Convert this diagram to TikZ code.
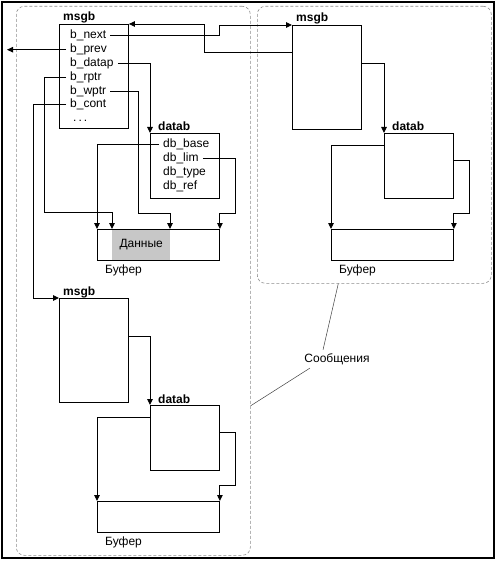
\documentclass[tikz,border=0pt]{standalone}
\usepackage{fontspec}
\setmainfont{Liberation Sans}
\usetikzlibrary{arrows.meta}

\begin{document}
\begin{tikzpicture}[x=1pt, y=1pt,
        font=\fontsize{12}{14}\selectfont,
        box/.style={draw, line width=0.9pt, anchor=north west, inner sep=0pt},
        group/.style={draw=black!45, dash pattern=on 3pt off 2pt, rounded corners=8pt, line width=0.6pt, anchor=north west, inner sep=0pt},
        title/.style={anchor=base west, inner sep=0pt, font=\fontsize{12}{14}\selectfont\bfseries},
        field/.style={anchor=base west, inner xsep=4pt, inner ysep=1pt},
        ptr/.style={line width=0.9pt, -{Triangle[length=6pt,width=5.5pt]}},
        lead/.style={draw=black!75, line width=0.5pt}]
        % Define the dimensions of the boxes
        \def\msgw{69pt} % Width of msgb
        \def\msgh{104pt} % Height of msgb
        \def\datw{69pt} % Width of datab
        \def\dath{65pt} % Height of datab
        \def\bufw{122pt} % Width of buffer
        \def\bufh{31pt} % Height of buffer

        \useasboundingbox (0,0) rectangle (497,-561);

        % Draw the frame and the two dashed groups
        \draw[line width=1.2pt] (2,-2) rectangle (494,-558);
        \node[group, minimum width=234pt, minimum height=549pt] (grpA) at (16,-6) {};
        \node[group, minimum width=234pt, minimum height=277pt] (grpB) at (257,-6) {};

        % Draw msgb, datab and buffer of each message
        \foreach \n/\mx/\my/\dx/\dy/\bx/\by in {A/59/-24/150/-133/97/-229, B/292/-25/384/-133/331/-229, C/59/-298/150/-405/97/-501} {
            \node[box, minimum width=\msgw, minimum height=\msgh] (msg\n) at (\mx,\my) {};
            \node[title] (msg\n t) at ([xshift=4pt,yshift=3pt]msg\n.north west) {msgb};
            \node[box, minimum width=\datw, minimum height=\dath] (dat\n) at (\dx,\dy) {};
            \node[title] (dat\n t) at ([xshift=8pt,yshift=2pt]dat\n.north west) {datab};
            \node[box, minimum width=\bufw, minimum height=\bufh] (buf\n) at (\bx,\by) {};
            \node[anchor=base west, inner sep=0pt] (buf\n l) at ([xshift=8pt,yshift=-13pt]buf\n.south west) {Буфер};
        }

        % Add the fields of the first message
        \foreach \name/\txt [count=\i] in {next/b\_next, prev/b\_prev, datap/b\_datap, rptr/b\_rptr, wptr/b\_wptr, cont/b\_cont} {
            \node[field] (\name) at (66,{-39-13.8*(\i-1)}) {\txt};
        }
        \node[field] (more) at (69,-121.8) {.\,.\,.};
        \foreach \name/\txt [count=\i] in {base/db\_base, lim/db\_lim, type/db\_type, ref/db\_ref} {
            \node[field] (\name) at (159,{-148-13.8*(\i-1)}) {\txt};
        }
        \node[fill=black!22, anchor=north west, inner sep=0pt, minimum width=58pt, minimum height=30.1pt] (dataA) at ([xshift=15pt,yshift=-0.45pt]bufA.north west) {Данные};

        % Draw the pointers
        \coordinate (prevout) at (7,0);
        \draw[ptr] (next.east) -- (next.east -| datA.east) |- (msgB.north west);
        \draw[ptr] ([yshift=-27pt]msgB.north west) -- ++(-88,0) |- (msgA.north east);
        \draw[ptr] (prev.west) -- (prev.west -| prevout);
        \draw[ptr] (datap.east) -| (datA.north west);
        \draw[ptr] (rptr.west) -- ++(-22,0) -- ++(0,-135) -| ([xshift=15pt]bufA.north west);
        \draw[ptr] (wptr.east) -- ++(28,0) -- ++(0,-122) -| ([xshift=73pt]bufA.north west);
        \draw[ptr] (cont.west) -- ++(-33,0) |- (msgC.north west);
        \draw[ptr] (base.west) -| (bufA.north west);
        \draw[ptr] (lim.east) -- ++(33,0) -- ++(0,-55) -| (bufA.north east);
        \foreach \n in {B,C} {
            \draw[ptr] ([yshift=-38pt]msg\n.north east) -| (dat\n.north west);
            \draw[ptr] ([yshift=-12pt]dat\n.north west) -| (buf\n.north west);
            \draw[ptr] ([yshift=-27pt]dat\n.north east) -- ++(16,0) -- ++(0,-53) -| (buf\n.north east);
        }

        % Add the label of the messages
        \node (msgs) at (337,-359) {Сообщения};
        \draw[lead] ([xshift=-14pt]msgs.north) -- ([xshift=-36pt]grpB.south);
        \draw[lead] ([xshift=9pt]msgs.south west) -- ([yshift=-125pt]grpA.east);
    \end{tikzpicture}
\end{document}
